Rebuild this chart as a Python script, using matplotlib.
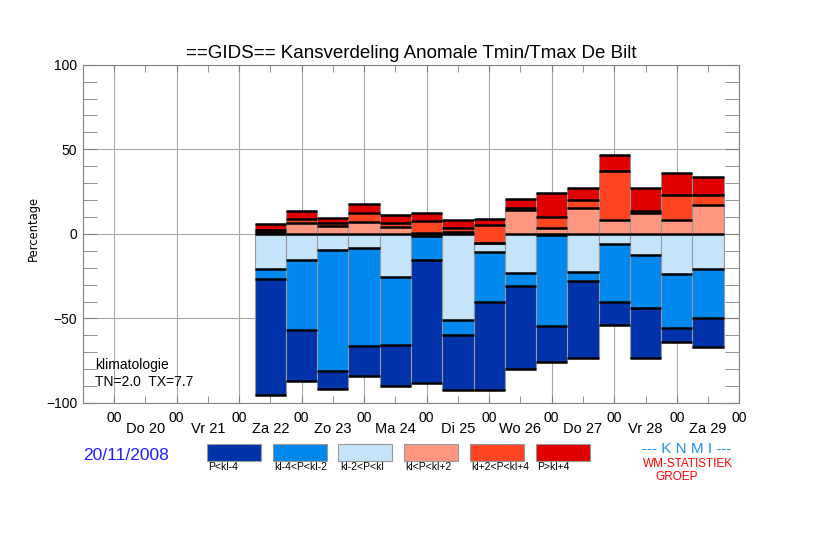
import matplotlib
matplotlib.use('Agg')
import matplotlib.pyplot as plt
import numpy as np
from matplotlib.patches import Rectangle

plt.rcParams['font.family'] = ['Liberation Sans', 'DejaVu Sans']

# ---------------- data ----------------
# valid times: hours after Do 20 00 UTC
hours = [60, 72, 84, 96, 108, 120, 132, 144, 156, 168, 180, 192, 204, 216, 228]
# category percentages
p_lt_m4   = [68.5, 30.6, 10.6, 17.5, 24.3, 73.0, 32.7, 51.9, 49.1, 21.3, 45.6, 13.6, 29.6,  8.5, 17.0]  # P<kl-4
p_m4_m2   = [ 6.1, 41.4, 71.4, 58.2, 39.8, 14.2,  9.1, 29.9,  7.9, 53.8,  5.1, 34.1, 31.4, 32.1, 29.0]  # kl-4<P<kl-2
p_m2_0    = [20.7, 15.2,  9.5,  8.3, 25.7,  1.0, 50.7,  5.2, 22.9,  0.8, 22.7,  5.9, 12.4, 23.5, 20.7]  # kl-2<P<kl
p_0_p2    = [ 0.8,  6.7,  4.9,  7.1,  4.3,  0.3,  1.0,  0.0, 14.0,  3.2, 15.0,  8.3, 12.2,  8.1, 17.2]  # kl<P<kl+2
p_p2_p4   = [ 1.5,  2.2,  1.6,  5.3,  2.2,  7.4,  2.5, 10.8,  1.5,  6.7,  5.1, 28.8,  1.2, 14.6,  5.5]  # kl+2<P<kl+4
p_gt_p4   = [ 3.6,  4.9,  3.0,  5.0,  4.7,  4.5,  4.8,  3.0,  5.2, 14.2,  7.1,  9.8, 13.8, 13.4, 11.2]  # P>kl+4
split     = [ 0.0,  0.0,  0.0,  0.0,  0.0,  0.0,  0.0, -5.3,  0.0,  0.0,  0.0,  0.0,  0.0,  0.0,  0.0]  # blue/red boundary

cat_labels = ['P<kl-4', 'kl-4<P<kl-2', 'kl-2<P<kl', 'kl<P<kl+2', 'kl+2<P<kl+4', 'P>kl+4']
cat_colors = ['#0033AA', '#0088EE', '#C4E4FA', '#FF9680', '#FF4422', '#E00000']
day_labels = ['Do 20', 'Vr 21', 'Za 22', 'Zo 23', 'Ma 24', 'Di 25', 'Wo 26', 'Do 27', 'Vr 28', 'Za 29']
clim_lines = ['klimatologie', 'TN=2.0  TX=7.7']
date_text = '20/11/2008'

# ---------------- figure ----------------
W, H = 822, 538
fig = plt.figure(figsize=(W / 100, H / 100), dpi=100)
fx = lambda px: px / W
fy = lambda py: 1 - py / H

ax = fig.add_axes([fx(82.7), fy(403), fx(739.3) - fx(82.7), fy(64.7) - fy(403)])

x = np.array(hours) / 24.0
base = np.array(split)
blues = [np.array(p_m2_0), np.array(p_m4_m2), np.array(p_lt_m4)]
reds = [np.array(p_0_p2), np.array(p_p2_p4), np.array(p_gt_p4)]
bw = 0.5

levels = [base.copy()]
cur = base.copy()
for col, vals in zip([cat_colors[2], cat_colors[1], cat_colors[0]], blues):
    ax.bar(x, vals, width=bw, bottom=cur - vals, color=col, edgecolor='#999999',
           linewidth=0.8, zorder=3)
    cur = cur - vals
    levels.append(cur.copy())
cur = base.copy()
for col, vals in zip(cat_colors[3:], reds):
    ax.bar(x, vals, width=bw, bottom=cur, color=col, edgecolor='#999999',
           linewidth=0.8, zorder=3)
    cur = cur + vals
    levels.append(cur.copy())
for lev in levels:
    ax.hlines(lev, x - bw / 2, x + bw / 2, colors='black', linewidth=1.8, zorder=4)

ax.set_xlim(-0.5, 10)
ax.set_ylim(-100, 100)
ax.set_xticks(np.arange(0, 11))
ax.set_xticklabels(['00'] * 11)
ax.set_xticks(np.arange(0.5, 10), minor=True)
ax.set_xticklabels(day_labels, minor=True)
ax.set_yticks([-100, -50, 0, 50, 100])
ax.set_yticks(np.arange(-100, 101, 10), minor=True)
ax.grid(True, which='major', color='#A8A8A8', linewidth=0.8, zorder=0)
ax.set_axisbelow(True)
for s in ax.spines.values():
    s.set_color('#808080')
    s.set_linewidth(0.8)
ax.tick_params(axis='both', which='both', direction='in', colors='#808080',
               labelcolor='black', labelsize=10, top=True, right=True)
ax.tick_params(axis='x', which='major', length=5, pad=6)
ax.tick_params(axis='x', which='minor', length=5, pad=14, labelsize=10.5)
ax.tick_params(axis='y', which='both', length=10, pad=4)

ax.set_title('==GIDS== Kansverdeling Anomale Tmin/Tmax De Bilt', fontsize=13.5, pad=5)
fig.text(fx(33), fy(228), 'Percentage', rotation=90, ha='center', va='center',
         family='DejaVu Sans', fontsize=8.3)
fig.text(fx(95), fy(369), clim_lines[0], ha='left', va='baseline', fontsize=10)
fig.text(fx(95), fy(386.5), clim_lines[1], ha='left', va='baseline', fontsize=10)
fig.text(fx(82.7), fy(455), date_text, ha='left', va='center', fontsize=12.5, color='#2020FF')

for k, (lab, col) in enumerate(zip(cat_labels, cat_colors)):
    x0 = 206.7 + 65.8 * k
    fig.add_artist(Rectangle((fx(x0), fy(461)), 54 / W, 17 / H, transform=fig.transFigure,
                             facecolor=col, edgecolor='#999999', linewidth=0.8))
    fig.text(fx(x0 + 1.5), fy(467.5), lab, ha='left', va='center', fontsize=7.5)

fig.text(fx(687), fy(449), '--- K N M I ---', ha='center', va='center', fontsize=11,
         color='#2090F0')
fig.text(fx(688), fy(464), 'WM-STATISTIEK', ha='center', va='center', fontsize=8.5,
         color='#FF0000')
fig.text(fx(655), fy(477), 'GROEP', ha='left', va='center', fontsize=8.5, color='#FF0000')

fig.savefig('out.png', dpi=100)
